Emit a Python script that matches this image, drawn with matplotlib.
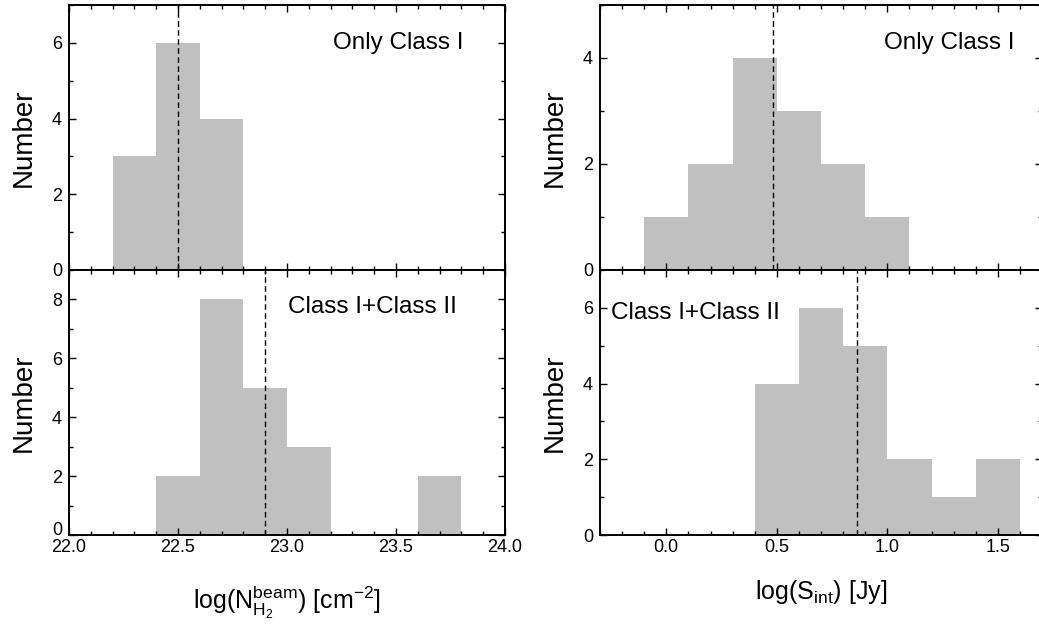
import numpy as np
import matplotlib
matplotlib.use("Agg")
import matplotlib.pyplot as plt
from matplotlib.ticker import MultipleLocator, FormatStrFormatter, FuncFormatter

plt.rcParams['font.family'] = ['Liberation Sans', 'DejaVu Sans']
plt.rcParams['mathtext.fontset'] = 'custom'
plt.rcParams['mathtext.rm'] = 'Liberation Sans'
plt.rcParams['mathtext.it'] = 'Liberation Sans:italic'

# 柱状图数据（左：列密度，右：积分流量）
nh2_edges_c1 = [22.2, 22.4, 22.6, 22.8]
nh2_counts_c1 = [3, 6, 4]
nh2_median_c1 = 22.5

nh2_edges_all = [22.4, 22.6, 22.8, 23.0, 23.2, 23.4, 23.6, 23.8]
nh2_counts_all = [2, 8, 5, 3, 0, 0, 2]
nh2_median_all = 22.9

sint_edges_c1 = [-0.1, 0.1, 0.3, 0.5, 0.7, 0.9, 1.1]
sint_counts_c1 = [1, 2, 4, 3, 2, 1]
sint_median_c1 = 0.485

sint_edges_all = [0.4, 0.6, 0.8, 1.0, 1.2, 1.4, 1.6]
sint_counts_all = [4, 6, 5, 2, 1, 2]
sint_median_all = 0.865

BAR_COLOR = '#c0c0c0'
TICK_SIZE = 13


def draw_hist(ax, edges, counts, median, label, label_xy, ylim, ymajor, ylabelpad):
    edges = np.asarray(edges)
    ax.bar(edges[:-1], counts, width=np.diff(edges), align='edge',
           color=BAR_COLOR, edgecolor='none', linewidth=0, zorder=1)
    ax.axvline(median, color='black', linestyle=(0, (4, 2.5)), linewidth=1.0, zorder=2)
    ax.text(label_xy[0], label_xy[1], label, transform=ax.transAxes,
            fontsize=17.5, va='center', ha='left')
    ax.set_ylim(*ylim)
    ax.yaxis.set_major_locator(MultipleLocator(ymajor))
    ax.yaxis.set_minor_locator(MultipleLocator(ymajor / 2))
    ax.set_ylabel('Number', fontsize=20, labelpad=ylabelpad)
    ax.tick_params(which='both', direction='in', top=True, right=True,
                   labelsize=TICK_SIZE, width=1.0)
    ax.tick_params(which='major', length=5, pad=5)
    ax.tick_params(which='minor', length=3)
    ax.tick_params(axis='x', pad=3)
    for sp in ax.spines.values():
        sp.set_linewidth(1.4)
        sp.set_zorder(3)


fig = plt.figure(figsize=(10.39, 6.3), dpi=100)

lx0, lw = 69 / 1039, 436 / 1039
rx0, rw = 600 / 1039, 442 / 1039
y_mid = 1 - 270 / 630
y_bot = 1 - 535 / 630
y_top = 1 - 5 / 630

ax1 = fig.add_axes([lx0, y_mid, lw, y_top - y_mid])
ax2 = fig.add_axes([lx0, y_bot, lw, y_mid - y_bot], sharex=ax1)
ax3 = fig.add_axes([rx0, y_mid, rw, y_top - y_mid])
ax4 = fig.add_axes([rx0, y_bot, rw, y_mid - y_bot], sharex=ax3)

draw_hist(ax1, nh2_edges_c1, nh2_counts_c1, nh2_median_c1,
          'Only Class I', (0.605, 0.857), (0, 7), 2, 11)
draw_hist(ax2, nh2_edges_all, nh2_counts_all, nh2_median_all,
          'Class I+Class II', (0.503, 0.86), (0, 9), 2, 11)
draw_hist(ax3, sint_edges_c1, sint_counts_c1, sint_median_c1,
          'Only Class I', (0.643, 0.857), (0, 5), 2, 11)
draw_hist(ax4, sint_edges_all, sint_counts_all, sint_median_all,
          'Class I+Class II', (0.025, 0.838), (0, 7), 2, 11)

ax1.set_xlim(22.0, 24.0)
ax1.xaxis.set_major_locator(MultipleLocator(0.5))
ax1.xaxis.set_minor_locator(MultipleLocator(0.1))
ax3.set_xlim(-0.3, 1.7)
ax3.xaxis.set_major_locator(MultipleLocator(0.5))
ax3.xaxis.set_minor_locator(MultipleLocator(0.1))

for ax in (ax1, ax3):
    ax.tick_params(labelbottom=False)

ax2.xaxis.set_major_formatter(FormatStrFormatter('%.1f'))
ax4.xaxis.set_major_formatter(FormatStrFormatter('%.1f'))

ax2.set_xlabel(r'log(N$\mathregular{^{beam}_{H_2}}$) [cm$\mathregular{^{-2}}$]',
               fontsize=18, labelpad=20)
ax4.set_xlabel(r'log(S$\mathregular{_{int}}$) [Jy]', fontsize=18, labelpad=16)

# 左下图的 "0" 略微上移，避免与 x 轴刻度标签 "22.0" 相碰
ax2.yaxis.set_major_formatter(FuncFormatter(lambda v, p: '' if v == 0 else f'{v:g}'))
ax2.annotate('0', xy=(0, 0), xycoords=ax2.get_yaxis_transform(),
             xytext=(-5, 3.5), textcoords='offset points',
             ha='right', va='center', fontsize=TICK_SIZE)

fig.savefig('out.png', dpi=100)
